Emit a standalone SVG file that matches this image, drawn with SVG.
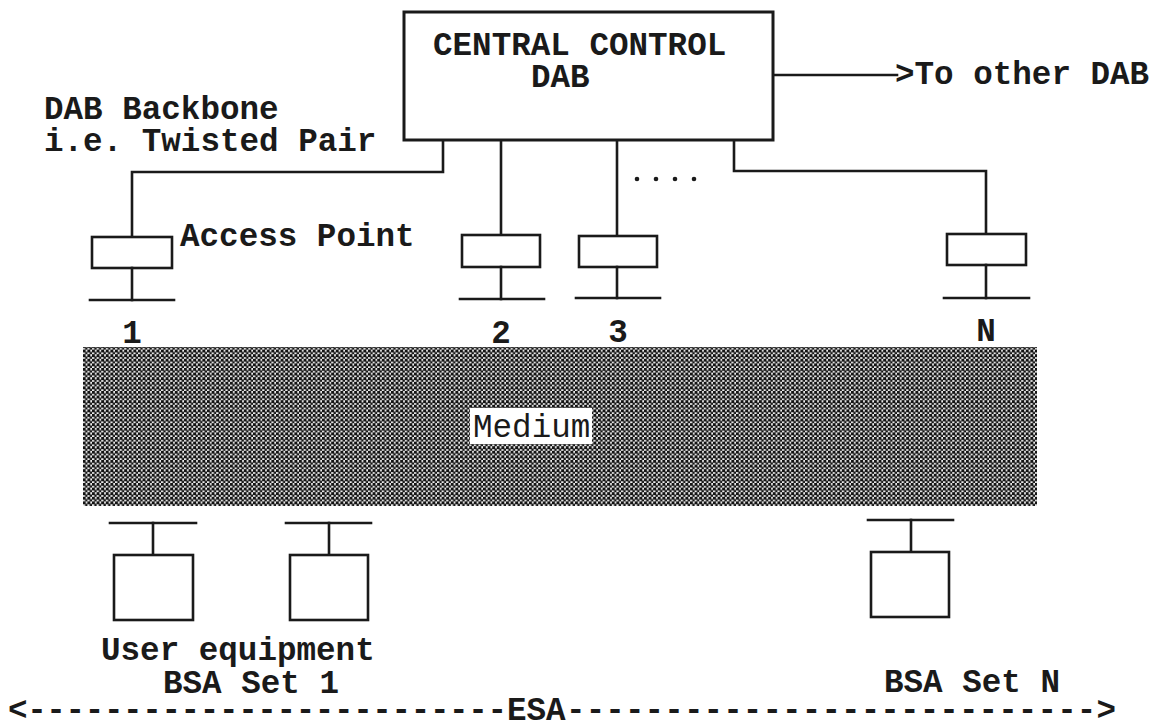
<svg xmlns="http://www.w3.org/2000/svg" width="1156" height="728" viewBox="0 0 1156 728">
<style>
  .ln{fill:none;stroke:#1a1a1a;stroke-width:2.6;stroke-linecap:square}
  .bx{fill:#fff;stroke:#1a1a1a;stroke-width:2.6}
  .t{font-family:"Liberation Mono","Courier New",monospace;font-size:32.6px;font-weight:bold;fill:#1a1a1a}
  .tm{font-family:"Liberation Mono","Courier New",monospace;font-size:32.6px;fill:#1a1a1a}
</style>
<defs>
  <pattern id="dither" width="4.6" height="4.6" patternUnits="userSpaceOnUse">
    <rect width="4.6" height="4.6" fill="#efefef"/>
    <rect x="0" y="0" width="2.9" height="2.9" fill="#141414"/>
    <rect x="2.3" y="2.3" width="2.9" height="2.9" fill="#141414"/>
  </pattern>
</defs>
<rect width="1156" height="728" fill="#fff"/>

<g id="connectors">
  <polyline class="ln" points="443,140 443,172 132,172 132,237"/>
  <line class="ln" x1="501" y1="140" x2="501" y2="235"/>
  <line class="ln" x1="617" y1="140" x2="617" y2="236"/>
  <polyline class="ln" points="734,140 734,171 986,171 986,234"/>
  <line class="ln" x1="773" y1="75" x2="897" y2="75"/>
</g>

<g id="central-control">
  <rect x="404" y="12" width="369" height="128" fill="#fff" stroke="#1a1a1a" stroke-width="3"/>
  <text class="t" x="433" y="55">CENTRAL CONTROL</text>
  <text class="t" x="531" y="87">DAB</text>
</g>
<text class="t" x="895" y="84">&gt;To other DAB</text>

<g id="backbone-label">
  <text class="t" x="44" y="119">DAB Backbone</text>
  <text class="t" x="44" y="151">i.e. Twisted Pair</text>
</g>

<g id="dots" fill="#1a1a1a">
  <circle cx="637" cy="179" r="2.3"/>
  <circle cx="656" cy="179" r="2.3"/>
  <circle cx="675" cy="179" r="2.3"/>
  <circle cx="694" cy="179" r="2.3"/>
</g>

<g id="ap1">
  <rect class="bx" x="92" y="237" width="80" height="31"/>
  <line class="ln" x1="132" y1="268" x2="132" y2="300"/>
  <line class="ln" x1="90" y1="300" x2="174" y2="300"/>
  <text class="t" x="180" y="246">Access Point</text>
  <text class="t" x="132" y="343" text-anchor="middle">1</text>
</g>
<g id="ap2">
  <rect class="bx" x="462" y="235" width="78" height="32"/>
  <line class="ln" x1="501" y1="267" x2="501" y2="299"/>
  <line class="ln" x1="460" y1="299" x2="544" y2="299"/>
  <text class="t" x="501" y="343" text-anchor="middle">2</text>
</g>
<g id="ap3">
  <rect class="bx" x="579" y="236" width="78" height="31"/>
  <line class="ln" x1="617" y1="267" x2="617" y2="298"/>
  <line class="ln" x1="576" y1="298" x2="660" y2="298"/>
  <text class="t" x="618" y="342" text-anchor="middle">3</text>
</g>
<g id="apN">
  <rect class="bx" x="947" y="234" width="79" height="31"/>
  <line class="ln" x1="986" y1="265" x2="986" y2="298"/>
  <line class="ln" x1="944" y1="298" x2="1029" y2="298"/>
  <text class="t" x="986" y="341" text-anchor="middle">N</text>
</g>

<g id="medium">
  <rect x="83" y="347" width="954" height="159" fill="url(#dither)"/>
  <rect x="470" y="408" width="122" height="36" fill="#fff"/>
  <text class="tm" x="473" y="437">Medium</text>
</g>

<g id="ue1">
  <line class="ln" x1="110" y1="523" x2="196" y2="523"/>
  <line class="ln" x1="153" y1="523" x2="153" y2="555"/>
  <rect class="bx" x="114" y="555" width="79" height="65"/>
</g>
<g id="ue2">
  <line class="ln" x1="286" y1="523" x2="371" y2="523"/>
  <line class="ln" x1="329" y1="523" x2="329" y2="555"/>
  <rect class="bx" x="290" y="555" width="78" height="65"/>
</g>
<g id="ueN">
  <line class="ln" x1="868" y1="520" x2="953" y2="520"/>
  <line class="ln" x1="911" y1="520" x2="911" y2="552"/>
  <rect class="bx" x="871" y="552" width="78" height="65"/>
</g>

<g id="labels">
  <text class="t" x="101" y="660">User equipment</text>
  <text class="t" x="163" y="693">BSA Set 1</text>
  <text class="t" x="884" y="692">BSA Set N</text>
</g>

<g id="esa">
  <text class="t" x="8" y="720" textLength="499" lengthAdjust="spacing">&lt;-------------------------</text>
  <text class="t" x="507" y="720">ESA</text>
  <text class="t" x="566" y="720" textLength="550" lengthAdjust="spacing">---------------------------&gt;</text>
</g>
</svg>
